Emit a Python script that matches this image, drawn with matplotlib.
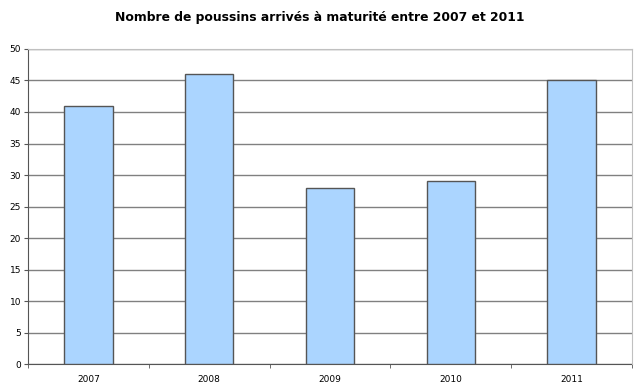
import matplotlib
matplotlib.use("Agg")
import matplotlib.pyplot as plt
import numpy as np

years = ['2007', '2008', '2009', '2010', '2011']
poussins = [41, 46, 28, 29, 45]

fig = plt.figure(figsize=(6.4, 3.91), dpi=100)
ax = fig.add_axes([0.04375, 0.069, 0.94375, 0.8057])

pos = np.arange(len(years))
ax.bar(pos, poussins, width=0.4, color='#abd5ff', edgecolor='#555555',
       linewidth=1.0, zorder=3)

ax.set_xlim(-0.5, len(years) - 0.5)
ax.set_ylim(0, 50)
ax.set_yticks(range(0, 51, 5))
ax.set_xticks(pos)
ax.set_xticklabels(years)
ax.set_xticks(np.arange(-0.5, len(years)), minor=True)
ax.tick_params(axis='x', which='major', length=0, labelsize=6.5, pad=8)
ax.tick_params(axis='x', which='minor', length=3, color='#555555')
ax.tick_params(axis='y', length=3, color='#555555', labelsize=6.5, pad=2)

ax.grid(axis='y', color='#808080', linewidth=1.0, zorder=0)
for s in ['top', 'right']:
    ax.spines[s].set_color('#c0c0c0')
    ax.spines[s].set_zorder(4)
for s in ['left', 'bottom']:
    ax.spines[s].set_color('#555555')

fig.suptitle('Nombre de poussins arrivés à maturité entre 2007 et 2011',
             fontsize=8.9, fontweight='bold', y=0.972)

fig.savefig('out.png', dpi=100)
